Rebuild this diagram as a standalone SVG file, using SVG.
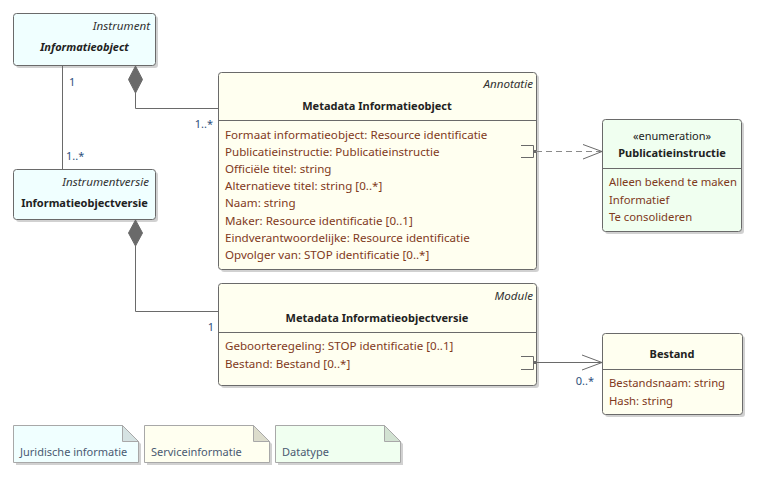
<svg xmlns="http://www.w3.org/2000/svg" width="761" height="477" viewBox="0 0 761 477">
<defs>
<style>
text{font-family:"Noto Sans","Open Sans","DejaVu Sans",sans-serif;font-size:11px}
.box{stroke:#6a6a6a;stroke-width:1}
.shadow{fill:#bdbdbd;opacity:0.7}
.cyan{fill:#f0ffff}
.ivory{fill:#fffff0}
.green{fill:#f0fff0}
.stereo{font-style:italic;fill:#333;text-anchor:end;font-size:11.6px}
.title{font-weight:bold;fill:#222;text-anchor:middle}
.attr{fill:#7f3a1c;font-size:11.6px}
.eattr{fill:#7f3a1c;font-size:11.3px}
.mult{fill:#2d4f7c}
.div{stroke:#6a6a6a;stroke-width:1}
.conn{stroke:#6a6a6a;stroke-width:1;fill:none}
.diamond{fill:#6a6a6a;stroke:#6a6a6a}
.note{stroke:#a8a8a8;stroke-width:1}
.notetext{fill:#4a5a72}
</style>
</defs>

<g id="Informatieobject">
<rect class="shadow" x="16" y="16" width="142" height="52" rx="3"/>
<rect class="box cyan" x="13.5" y="13.5" width="142" height="52" rx="3"/>
<text class="stereo" x="150" y="30">Instrument</text>
<text class="title" x="84.5" y="51" font-style="italic">Informatieobject</text>
</g>

<g id="Informatieobjectversie">
<rect class="shadow" x="16" y="172" width="142" height="50" rx="3"/>
<rect class="box cyan" x="13.5" y="169.5" width="142" height="50" rx="3"/>
<text class="stereo" x="149" y="186">Instrumentversie</text>
<text class="title" x="84.5" y="207">Informatieobjectversie</text>
</g>

<g id="MetadataInformatieobject">
<rect class="shadow" x="221" y="75" width="318" height="197" rx="3"/>
<rect class="box ivory" x="218.5" y="72.5" width="318" height="197" rx="3"/>
<text class="stereo" x="533" y="88">Annotatie</text>
<text class="title" x="377" y="110">Metadata Informatieobject</text>
<line class="div" x1="218.5" y1="120.5" x2="536.5" y2="120.5"/>
<text class="attr" x="225" y="139">Formaat informatieobject: Resource identificatie</text>
<text class="attr" x="225" y="156">Publicatieinstructie: Publicatieinstructie</text>
<text class="attr" x="225" y="173">Officiële titel: string</text>
<text class="attr" x="225" y="190">Alternatieve titel: string [0..*]</text>
<text class="attr" x="225" y="207">Naam: string</text>
<text class="attr" x="225" y="225">Maker: Resource identificatie [0..1]</text>
<text class="attr" x="225" y="242">Eindverantwoordelijke: Resource identificatie</text>
<text class="attr" x="225" y="259">Opvolger van: STOP identificatie [0..*]</text>
</g>

<g id="Publicatieinstructie">
<rect class="shadow" x="605" y="122" width="139" height="112" rx="3"/>
<rect class="box green" x="602.5" y="119.5" width="139" height="112" rx="3"/>
<text x="672" y="140" text-anchor="middle" fill="#222" font-size="11.3px">«enumeration»</text>
<text class="title" x="672" y="157">Publicatieinstructie</text>
<line class="div" x1="602.5" y1="168.5" x2="741.5" y2="168.5"/>
<text class="eattr" x="609" y="186">Alleen bekend te maken</text>
<text class="eattr" x="609" y="204">Informatief</text>
<text class="eattr" x="609" y="221">Te consolideren</text>
</g>

<g id="MetadataInformatieobjectversie">
<rect class="shadow" x="221" y="286" width="318" height="102" rx="3"/>
<rect class="box ivory" x="218.5" y="283.5" width="318" height="102" rx="3"/>
<text class="stereo" x="533" y="300">Module</text>
<text class="title" x="377" y="322">Metadata Informatieobjectversie</text>
<line class="div" x1="218.5" y1="332.5" x2="536.5" y2="332.5"/>
<text class="attr" x="225" y="350">Geboorteregeling: STOP identificatie [0..1]</text>
<text class="attr" x="225" y="368">Bestand: Bestand [0..*]</text>
</g>

<g id="Bestand">
<rect class="shadow" x="605" y="336" width="140" height="81" rx="3"/>
<rect class="box ivory" x="602.5" y="333.5" width="140" height="81" rx="3"/>
<text class="title" x="672" y="358">Bestand</text>
<line class="div" x1="602.5" y1="369.5" x2="742.5" y2="369.5"/>
<text class="eattr" x="609" y="387">Bestandsnaam: string</text>
<text class="eattr" x="609" y="405">Hash: string</text>
</g>

<g id="connectors">
<line class="conn" x1="62.5" y1="65.5" x2="62.5" y2="169.5"/>
<text class="mult" x="69" y="86">1</text>
<text class="mult" x="66" y="160">1..*</text>

<polygon class="diamond" points="135.5,66 142.5,79.5 135.5,93 128.5,79.5"/>
<polyline class="conn" points="135.5,93 135.5,108.5 218.5,108.5"/>
<text class="mult" x="213" y="128" text-anchor="end">1..*</text>

<polygon class="diamond" points="135.5,220 142.5,233 135.5,246 128.5,233"/>
<polyline class="conn" points="135.5,246 135.5,311.5 218.5,311.5"/>
<text class="mult" x="214" y="331" text-anchor="end">1</text>

<polyline class="conn" points="521,145.5 533.5,145.5 533.5,157.5 521,157.5"/>
<rect x="533" y="150" width="3" height="3" fill="#6a6a6a"/>
<line x1="536" y1="151.5" x2="602" y2="151.5" stroke="#8a8a8a" stroke-width="1" stroke-dasharray="6,4"/>
<polyline class="conn" points="583,144.5 602,151.5 583,159"/>

<polyline class="conn" points="521,356.5 533.5,356.5 533.5,369.5 521,369.5"/>
<rect x="533" y="361" width="3" height="3" fill="#6a6a6a"/>
<line class="conn" x1="536" y1="362.5" x2="602" y2="362.5"/>
<polyline class="conn" points="582,355 602,362.5 582,370"/>
<text class="mult" x="594" y="385" text-anchor="end">0..*</text>
</g>

<g id="NoteJuridisch">
<path class="shadow" d="M16,428 H125 L141,444 V465 H16 Z"/>
<path class="note" fill="#f0ffff" d="M13.5,425.5 H122.5 L138.5,441.5 V462.5 H13.5 Z"/>
<path class="note" fill="#d5e2e2" d="M122.5,425.5 V441.5 H138.5 Z"/>
<text class="notetext" x="20" y="456">Juridische informatie</text>
</g>

<g id="NoteService">
<path class="shadow" d="M147,428 H256 L272,444 V465 H147 Z"/>
<path class="note" fill="#fffff0" d="M144.5,425.5 H253.5 L269.5,441.5 V462.5 H144.5 Z"/>
<path class="note" fill="#dcdccc" d="M253.5,425.5 V441.5 H269.5 Z"/>
<text class="notetext" x="151" y="456">Serviceinformatie</text>
</g>

<g id="NoteDatatype">
<path class="shadow" d="M278,428 H387 L403,444 V465 H278 Z"/>
<path class="note" fill="#f0fff0" d="M275.5,425.5 H384.5 L400.5,441.5 V462.5 H275.5 Z"/>
<path class="note" fill="#d2e2d2" d="M384.5,425.5 V441.5 H400.5 Z"/>
<text class="notetext" x="282" y="456">Datatype</text>
</g>
</svg>
